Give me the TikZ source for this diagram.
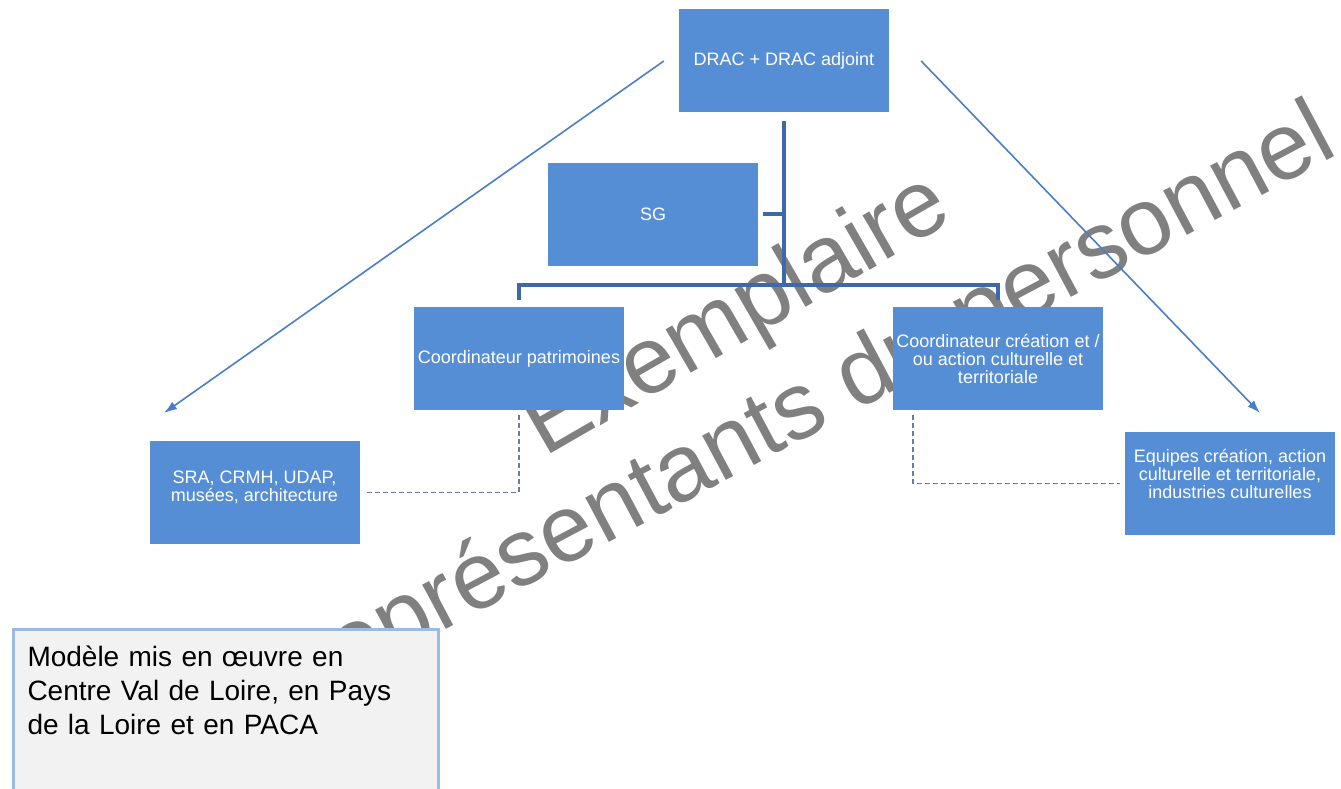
\documentclass[tikz,border=0pt]{standalone}
\usepackage{fontspec}
\setmainfont{Liberation Sans}
\usetikzlibrary{arrows.meta}
\definecolor{boxblue}{RGB}{85,142,213}
\definecolor{trunkblue}{RGB}{61,104,170}
\definecolor{arrowblue}{RGB}{74,126,200}
\definecolor{dashblue}{RGB}{100,124,168}
\definecolor{notefill}{RGB}{242,242,242}
\definecolor{noteborder}{RGB}{155,187,226}
\definecolor{stampgray}{RGB}{128,128,128}
\tikzset{ %inner sep = 0.5mm,
  >={Latex[length=13pt,width=9pt]},
  {boxtext/.style} ={text=white, align=center,
                     font=\fontsize{18}{18}\selectfont},
  {box/.style} ={rectangle, fill=boxblue, boxtext, inner sep=0,
                 minimum width=210pt, minimum height=103pt},
  {trunk/.style} ={draw=trunkblue, line width=4pt},
  {dotline/.style} ={draw=dashblue, line width=1.2pt,
                     dash pattern=on 5pt off 3pt},
  {pointer/.style} ={draw=arrowblue, line width=1.6pt, ->},
  {note/.style} ={rectangle, anchor=north west, fill=notefill,
                  draw=noteborder, line width=3pt, align=left,
                  text width=397pt, inner xsep=14pt, inner ysep=17pt,
                  text height=20pt, text depth=130pt,
                  font=\fontsize{28}{34}\selectfont},
  {stamp/.style} ={text=stampgray, anchor=base west, inner sep=0,
                   font=\fontsize{95}{95}\selectfont},
}

\begin{document}
\begin{tikzpicture}[x=1pt,y=-1pt]
\useasboundingbox[fill=white] (0,0) rectangle (1341,789);
% watermark behind everything
\node[stamp,rotate=30] (ex) at (544,458) {Exemplaire};
\node[stamp,rotate=28] (rep) at (319,697) {représentants du personnel};

\node[box] (drac) at (784,61) {DRAC + DRAC adjoint};
\node[box] (sg) at (653,214) {SG};
\node[box] (cpat) at (519,358.5) {Coordinateur patrimoines};
\node[box] (ccre) at (998,358.5) {Coordinateur création et /\\ou action culturelle et\\territoriale};
\node[box,label={[boxtext,yshift=5pt]center:{SRA, CRMH, UDAP,\\musées, architecture}}] (sra) at (254.5,492.5) {};
\node[box,label={[boxtext,yshift=10pt]center:{Equipes création, action\\culturelle et territoriale,\\industries culturelles}}] (equ) at (1230,483.5) {};

\coordinate (hub) at (784,285);
\coordinate (lefttip) at (164,413);
\coordinate (righttip) at (1260,413);

\draw[trunk, shorten <=8pt] (drac.south) -- (drac.south |- hub);
\draw[trunk, shorten <=5pt] (sg.east) -- (sg.east -| hub);
\draw[trunk, shorten <=7pt, shorten >=7pt] (cpat.north) -- (cpat.north |- hub) -| (ccre.north);

\draw[dotline, shorten <=5pt, shorten >=6pt] (cpat.south) |- (sra.east);
\draw[dotline, shorten <=5pt, shorten >=5pt] ([xshift=-85pt]ccre.south) |- (equ.west);

\draw[pointer] ([xshift=-15pt]drac.west) -- (lefttip);
\draw[pointer] ([xshift=32pt]drac.east) -- (righttip);

\node[note] (note) at (12,628) {Modèle mis en œuvre en\\Centre Val de Loire, en Pays\\de la Loire et en PACA};
\end{tikzpicture}
\end{document}
